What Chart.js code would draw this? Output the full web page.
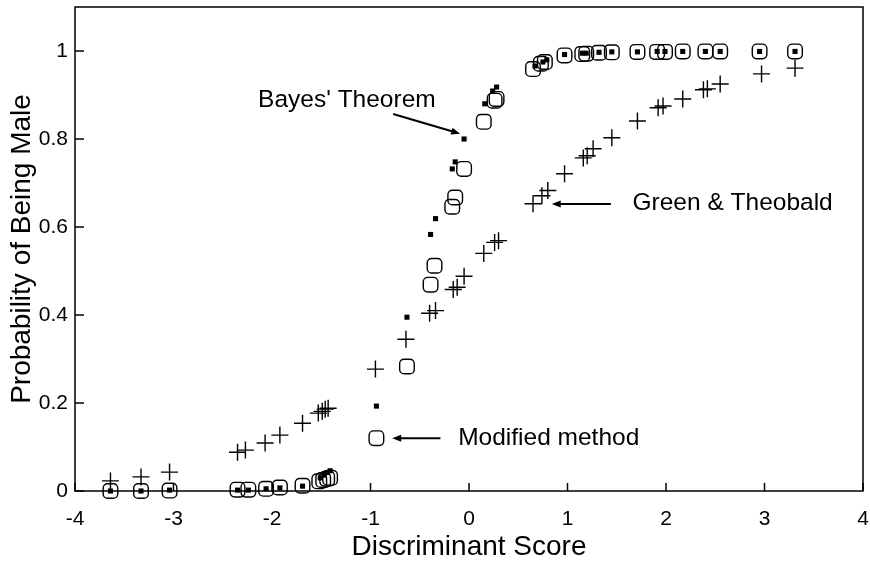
<!DOCTYPE html>
<html>
<head>
<meta charset="utf-8">
<script src="https://cdn.jsdelivr.net/npm/chart.js@4/dist/chart.umd.min.js"></script>
<style>
  body { margin: 0; background: #fff; }
  #wrap { width: 870px; height: 565px; }
</style>
</head>
<body>
<div id="wrap"><canvas id="probChart"></canvas></div>
<script>
// Bayes' Theorem (small filled squares)
var bayesX = [-3.64, -3.33, -3.04, -2.35, -2.24, -2.06, -1.92, -1.69, -1.51, -1.47, -1.44, -1.41,
  -0.94, -0.63, -0.39, -0.34, -0.17, -0.14, -0.05, 0.16, 0.24, 0.28,
  0.67, 0.75, 0.79, 0.97, 1.15, 1.19, 1.32, 1.45, 1.71, 1.91, 1.99, 2.17, 2.40, 2.55, 2.95, 3.31];
var bayesY = [0, 0, 0.002, 0.002, 0.002, 0.005, 0.007, 0.011, 0.030, 0.036, 0.042, 0.046,
  0.193, 0.395, 0.583, 0.619, 0.732, 0.748, 0.800, 0.880, 0.909, 0.918,
  0.966, 0.975, 0.980, 0.992, 0.995, 0.995, 0.997, 0.998, 0.998, 0.999, 0.999, 0.999, 0.999, 0.999, 0.999, 0.999];

// Modified method (open squares)
var modX = [-3.64, -3.33, -3.04, -2.35, -2.24, -2.06, -1.92, -1.69, -1.52, -1.48, -1.44, -1.41,
  -0.94, -0.63, -0.39, -0.35, -0.17, -0.14, -0.05, 0.15, 0.26, 0.28,
  0.65, 0.73, 0.77, 0.97, 1.15, 1.19, 1.32, 1.45, 1.71, 1.91, 1.99, 2.17, 2.40, 2.55, 2.95, 3.31];
var modY = [0, 0, 0.001, 0.003, 0.003, 0.005, 0.008, 0.012, 0.022, 0.025, 0.028, 0.030,
  0.120, 0.283, 0.469, 0.512, 0.646, 0.667, 0.732, 0.839, 0.887, 0.891,
  0.959, 0.971, 0.975, 0.990, 0.993, 0.994, 0.996, 0.997, 0.998, 0.998, 0.998, 0.999, 0.999, 0.999, 0.999, 0.999];

// Green & Theobald (plus signs)
var greenX = [-3.64, -3.33, -3.04, -2.35, -2.27, -2.07, -1.92, -1.69, -1.53, -1.49, -1.46, -1.43,
  -0.95, -0.64, -0.40, -0.34, -0.16, -0.12, -0.05, 0.15, 0.26, 0.30,
  0.65, 0.74, 0.80, 0.97, 1.16, 1.20, 1.26, 1.45, 1.71, 1.92, 1.97, 2.17, 2.38, 2.42, 2.55, 2.97, 3.31];
var greenY = [0.023, 0.032, 0.043, 0.088, 0.093, 0.109, 0.127, 0.154, 0.177, 0.181, 0.186, 0.188,
  0.277, 0.345, 0.404, 0.410, 0.458, 0.463, 0.488, 0.540, 0.565, 0.569,
  0.653, 0.671, 0.683, 0.721, 0.757, 0.762, 0.778, 0.803, 0.841, 0.871, 0.875, 0.891, 0.912, 0.914, 0.925, 0.948, 0.961];

var xTicks = [-4, -3, -2, -1, 0, 1, 2, 3, 4];
var yTicks = [0, 0.2, 0.4, 0.6, 0.8, 1];

function pts(xs, ys) {
  return xs.map(function (x, i) { return { x: x, y: ys[i] }; });
}

const ctx = document.getElementById("probChart").getContext("2d");
Chart.defaults.font.family = "'Liberation Sans', Arial, Helvetica, sans-serif";
Chart.defaults.color = "#000";

// frame, inward tick marks and the text labels with arrows
var framePlugin = {
  id: "framePlugin",
  afterDraw: function (chart) {
    var c = chart.ctx;
    var a = chart.chartArea;
    var xs = chart.scales.x;
    var ys = chart.scales.y;
    c.save();
    c.strokeStyle = "#000";
    c.lineWidth = 1.5;
    c.strokeRect(a.left, a.top, a.right - a.left, a.bottom - a.top);
    c.beginPath();
    xTicks.forEach(function (v) {
      var px = xs.getPixelForValue(v);
      c.moveTo(px, a.bottom);
      c.lineTo(px, a.bottom - 8);
    });
    yTicks.forEach(function (v) {
      var py = ys.getPixelForValue(v);
      c.moveTo(a.left, py);
      c.lineTo(a.left + 9, py);
    });
    c.stroke();

    function arrow(x1, y1, x2, y2) {
      var p1x = xs.getPixelForValue(x1), p1y = ys.getPixelForValue(y1);
      var p2x = xs.getPixelForValue(x2), p2y = ys.getPixelForValue(y2);
      var ang = Math.atan2(p2y - p1y, p2x - p1x);
      c.lineWidth = 2;
      c.beginPath();
      c.moveTo(p1x, p1y);
      c.lineTo(p2x - 6 * Math.cos(ang), p2y - 6 * Math.sin(ang));
      c.stroke();
      c.beginPath();
      c.moveTo(p2x, p2y);
      c.lineTo(p2x - 9 * Math.cos(ang) + 3.5 * Math.sin(ang), p2y - 9 * Math.sin(ang) - 3.5 * Math.cos(ang));
      c.lineTo(p2x - 9 * Math.cos(ang) - 3.5 * Math.sin(ang), p2y - 9 * Math.sin(ang) + 3.5 * Math.cos(ang));
      c.closePath();
      c.fill();
    }
    c.fillStyle = "#000";
    c.font = "24.5px 'Liberation Sans', Arial, sans-serif";
    c.textBaseline = "middle";
    c.textAlign = "center";
    c.fillText("Bayes' Theorem", xs.getPixelForValue(-1.24), ys.getPixelForValue(0.887));
    c.textAlign = "left";
    c.fillText("Modified method", xs.getPixelForValue(-0.11), ys.getPixelForValue(0.120));
    c.fillText("Green & Theobald", xs.getPixelForValue(1.66), ys.getPixelForValue(0.653));
    arrow(-0.77, 0.857, -0.09, 0.812);
    arrow(-0.29, 0.120, -0.78, 0.120);
    arrow(1.44, 0.652, 0.84, 0.652);
    c.restore();
  },
};

var chart = new Chart(ctx, {
  type: "scatter",
  data: {
    datasets: [
      {
        label: "Bayes' Theorem",
        data: pts(bayesX, bayesY),
        pointStyle: "rect",
        pointRadius: 3.6,
        backgroundColor: "#000",
        borderColor: "#000",
        borderWidth: 0,
        clip: false,
      },
      {
        label: "Modified method",
        data: pts(modX, modY),
        pointStyle: "rectRounded",
        pointRadius: 8.5,
        backgroundColor: "rgba(0,0,0,0)",
        borderColor: "#000",
        borderWidth: 1.4,
        clip: false,
      },
      {
        label: "Green & Theobald",
        data: pts(greenX, greenY),
        pointStyle: "cross",
        pointRadius: 8.5,
        borderColor: "#000",
        borderWidth: 1.4,
        clip: false,
      },
    ],
  },
  options: {
    responsive: true,
    maintainAspectRatio: false,
    animation: false,
    layout: { autoPadding: false, padding: { top: 7, right: 7, left: 0, bottom: 0 } },
    plugins: {
      legend: { display: false },
      tooltip: { enabled: false },
    },
    scales: {
      x: {
        type: "linear",
        min: -4,
        max: 4,
        afterBuildTicks: function (s) { s.ticks = xTicks.map(function (v) { return { value: v }; }); },
        afterFit: function (s) { s.height = 74; s.paddingLeft = 0; s.paddingRight = 0; },
        grid: { display: false, drawTicks: false },
        border: { display: false },
        ticks: {
          padding: 16,
          maxRotation: 0,
          font: { size: 21 },
          callback: function (v) { return String(v); },
        },
        title: {
          display: true,
          text: "Discriminant Score",
          font: { size: 28 },
          padding: { top: 0, bottom: 1 },
        },
      },
      y: {
        type: "linear",
        min: 0,
        max: 1.1,
        afterBuildTicks: function (s) { s.ticks = yTicks.map(function (v) { return { value: v }; }); },
        afterFit: function (s) { s.width = 75; s.paddingTop = 0; s.paddingBottom = 0; },
        grid: { display: false, drawTicks: false },
        border: { display: false },
        ticks: {
          padding: 7,
          font: { size: 21 },
          callback: function (v) { return String(Math.round(v * 10) / 10); },
        },
        title: {
          display: true,
          text: "Probability of Being Male",
          font: { size: 28 },
          padding: { top: 5, bottom: 0 },
        },
      },
    },
  },
  plugins: [framePlugin],
});
</script>
</body>
</html>
